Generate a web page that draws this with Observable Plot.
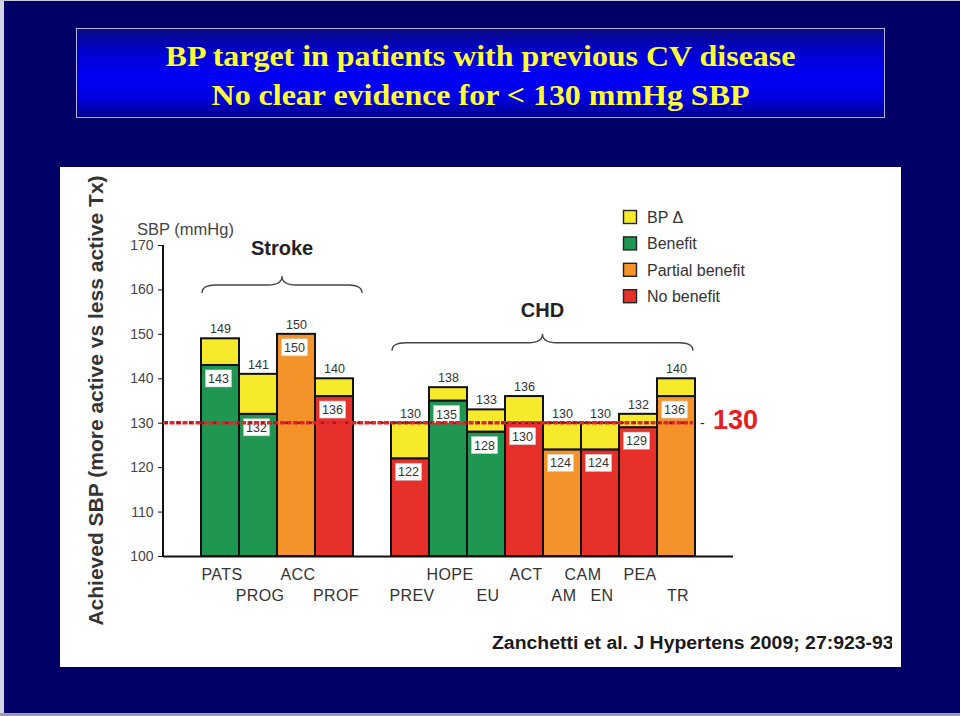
<!DOCTYPE html>
<html>
<head>
<meta charset="utf-8">
<script src="https://cdn.jsdelivr.net/npm/d3@7"></script>
<script src="https://cdn.jsdelivr.net/npm/@observablehq/plot@0.6"></script>
<style>
  html, body { margin: 0; padding: 0; }
  body { width: 960px; height: 716px; background: #000066; position: relative; overflow: hidden;
         font-family: "Liberation Sans", Arial, sans-serif; }
  #edgeL { position: absolute; left: 0; top: 0; width: 4px; height: 716px; background: #d4d4e4; }
  #edgeT { position: absolute; left: 0; top: 0; width: 960px; height: 1px; background: #c8c8dc; }
  #edgeB { position: absolute; left: 0; top: 713px; width: 960px; height: 3px; background: #9c9cb8; }
  #title { position: absolute; left: 76px; top: 28px; width: 807px; height: 88px;
           border: 1px solid #b4b4e0;
           background: linear-gradient(to bottom, #0a0a86 0%, #0000d8 30%, #0000f6 55%, #0000e0 78%, #000090 100%);
           color: #ffff33; font-family: "Liberation Serif", "Times New Roman", serif; font-weight: bold;
           font-size: 30px; line-height: 39px; text-align: center; }
  #title div { white-space: nowrap; transform: scaleX(1.065); transform-origin: 403px center; }
  #panel { position: absolute; left: 60px; top: 167px; width: 841px; height: 500px; background: #fff; overflow: hidden; }
  #panel svg { position: absolute; left: 0; top: 0; z-index: 1; }
  #cite { position: absolute; left: 432px; top: 467px; width: 400px; height: 24px; overflow: hidden; z-index: 2; }
  #cite span { display: inline-block; white-space: nowrap; font-weight: bold; font-size: 17.5px; line-height: 18px;
               color: #1a1a1a; transform: scaleX(1.11); transform-origin: left center; }
</style>
</head>
<body>
<div id="edgeL"></div><div id="edgeT"></div><div id="edgeB"></div>
<div id="title">
  <div style="margin-top:7px">BP target in patients with previous CV disease</div>
  <div>No clear evidence for &lt; 130 mmHg SBP</div>
</div>
<div id="panel"><div id="cite"><span>Zanchetti et al. J Hypertens 2009; 27:923-934</span></div></div>
<script>
// ---------------- data ----------------
const groups = ["Stroke", "CHD"];
const groupBraceSBP = [161, 148];            // SBP level at which each group brace is drawn
const trials = ["PATS", "PROG", "ACC", "PROF", "PREV", "HOPE", "EU", "ACT", "CAMAM", "CAMEN", "PEA", "TR"];
const trialGroup = ["Stroke", "Stroke", "Stroke", "Stroke", "CHD", "CHD", "CHD", "CHD", "CHD", "CHD", "CHD", "CHD"];
const lessActiveSBP = [149, 141, 150, 140, 130, 138, 133, 136, 130, 130, 132, 140];
const achievedSBP  = [143, 132, 150, 136, 122, 135, 128, 130, 124, 124, 129, 136];
const outcome = ["Benefit", "Benefit", "Partial benefit", "No benefit", "No benefit", "Benefit", "Benefit",
                 "No benefit", "Partial benefit", "No benefit", "No benefit", "Partial benefit"];
const xLabelText = ["PATS", "PROG", "ACC", "PROF", "PREV", "HOPE", "EU", "ACT", "CAM", "AM", "EN", "PEA", "TR"];
const xLabelRow  = [1, 2, 1, 2, 2, 1, 2, 1, 1, 2, 2, 1, 2];
const xLabelOver = [["PATS"], ["PROG"], ["ACC"], ["PROF"], ["PREV"], ["HOPE"], ["EU"], ["ACT"],
                    ["CAMAM", "CAMEN"], ["CAMAM"], ["CAMEN"], ["PEA"], ["TR"]];
const legendLabels = ["BP \u0394", "Benefit", "Partial benefit", "No benefit"];
const legendColors = ["#f6ea2a", "#1f9652", "#f5932b", "#e8302b"];
const yTicks = [100, 110, 120, 130, 140, 150, 160, 170];
const targetSBP = 130;

// ---------------- derived table ----------------
const rows = trials.map((t, i) => ({
  trial: t, group: trialGroup[i], upper: lessActiveSBP[i], achieved: achievedSBP[i], outcome: outcome[i]
}));
const slots = ["gap0"];
groups.forEach((g, gi) => {
  trials.forEach((t, i) => { if (trialGroup[i] === g) slots.push(t); });
  slots.push("gap" + (gi + 1));
});
const deltas = rows.filter(d => d.upper > d.achieved);

const ink = "#333";

function annotations(index, scales, values, dims) {
  const x = scales.x, y = scales.y, bw = x.bandwidth();
  const g = d3.create("svg:g").attr("font-family", "Liberation Sans, Arial, sans-serif").attr("text-anchor", "start");
  const left = dims.marginLeft;

  // lower (achieved) value labels in white boxes
  rows.forEach(d => {
    const cx = x(d.trial) + bw / 2 - 1.5, top = y(d.achieved) + 5;
    g.append("rect").attr("x", cx - 13).attr("y", top).attr("width", 26).attr("height", 17)
      .attr("fill", "#fff").attr("stroke", "#ccc").attr("stroke-width", 0.6);
    g.append("text").attr("x", cx).attr("y", top + 13).attr("text-anchor", "middle")
      .attr("font-size", 12.5).attr("fill", ink).text(d.achieved);
  });

  // y axis line
  g.append("line").attr("x1", left).attr("x2", left).attr("y1", y(170)).attr("y2", y(100))
    .attr("stroke", "#111").attr("stroke-width", 2);

  // target line
  const lineEnd = x(trials[trials.length - 1]) + bw - 2;
  g.append("line").attr("x1", left).attr("x2", lineEnd).attr("y1", y(targetSBP)).attr("y2", y(targetSBP))
    .attr("stroke", "#e0262b").attr("stroke-width", 3.5).attr("stroke-dasharray", "5,1.5");
  g.append("line").attr("x1", left + 2).attr("x2", lineEnd).attr("y1", y(targetSBP)).attr("y2", y(targetSBP))
    .attr("stroke", "#9a1418").attr("stroke-width", 2).attr("stroke-dasharray", "3,9");
  g.append("text").attr("x", lineEnd + 7).attr("y", y(targetSBP) + 5).attr("font-size", 14)
    .attr("fill", "#222").text("-");
  g.append("text").attr("x", lineEnd + 20).attr("y", y(targetSBP) + 6).attr("font-size", 27)
    .attr("font-weight", "bold").attr("fill", "#e3201f").text(targetSBP);

  // group braces + labels
  groups.forEach((grp, gi) => {
    const ts = trials.filter((t, i) => trialGroup[i] === grp);
    const x0 = x(ts[0]) + 1, x1 = x(ts[ts.length - 1]) + bw + (gi === 0 ? 9 : -2);
    const xc = (x0 + x1) / 2, ym = y(groupBraceSBP[gi]), ye = ym + 8, yp = ym - 9, r = 14;
    const p = `M${x0},${ye} Q${x0},${ym} ${x0 + r},${ym} L${xc - r},${ym} Q${xc},${ym} ${xc},${yp}` +
              ` Q${xc},${ym} ${xc + r},${ym} L${x1 - r},${ym} Q${x1},${ym} ${x1},${ye}`;
    g.append("path").attr("d", p).attr("fill", "none").attr("stroke", "#444").attr("stroke-width", 1.3);
    g.append("text").attr("x", xc).attr("y", ym - 28 + (gi === 0 ? -2 : 2)).attr("text-anchor", "middle")
      .attr("font-size", 20).attr("font-weight", "bold").attr("fill", "#222").text(grp);
  });

  // x labels (two staggered rows)
  const base = y(100);
  xLabelText.forEach((t, i) => {
    const cs = xLabelOver[i].map(s => x(s) + bw / 2);
    g.append("text").attr("x", d3.mean(cs) + 2).attr("y", base + (xLabelRow[i] === 1 ? 24 : 45))
      .attr("text-anchor", "middle").attr("font-size", 16).attr("letter-spacing", 0.4).attr("fill", ink).text(t);
  });

  // axis titles
  g.append("text").attr("x", 77).attr("y", 68).attr("font-size", 16.5).attr("fill", "#444").text("SBP (mmHg)");
  g.append("text").attr("transform", `translate(43,${(y(170) + y(100)) / 2}) rotate(-90)`)
    .attr("text-anchor", "middle").attr("font-size", 21).attr("font-weight", "bold").attr("fill", "#333")
    .text("Achieved SBP (more active vs less active Tx)");

  // legend
  legendLabels.forEach((lab, i) => {
    const cy = 50 + i * 26.4;
    g.append("rect").attr("x", 563.5).attr("y", cy - 6.5).attr("width", 13).attr("height", 13)
      .attr("fill", legendColors[i]).attr("stroke", "#222").attr("stroke-width", 1.4);
    g.append("text").attr("x", 587).attr("y", cy + 6).attr("font-size", 16).attr("fill", ink).text(lab);
  });
  return g.node();
}

const chart = Plot.plot({
  width: 841,
  height: 500,
  marginLeft: 103,
  marginRight: 168,
  marginTop: 78,
  marginBottom: 111,
  style: { background: "white", fontFamily: "Liberation Sans, Arial, sans-serif", color: "#444" },
  x: { type: "band", domain: slots, padding: 0, axis: null },
  y: { domain: [100, 170], axis: null },
  color: { domain: legendLabels, range: legendColors },
  marks: [
    Plot.barY(rows, { x: "trial", y1: 100, y2: "achieved", fill: "outcome", stroke: "#111", strokeWidth: 2, inset: 0 }),
    Plot.barY(deltas, { x: "trial", y1: "achieved", y2: "upper", fill: () => legendLabels[0], stroke: "#111", strokeWidth: 2, inset: 0 }),
    Plot.ruleY([100], { stroke: "#111", strokeWidth: 2 }),
    Plot.axisY({ ticks: yTicks, tickSize: 5, tickPadding: 5, fontSize: 14, label: null, stroke: "#111", fill: "#444" }),
    Plot.text(rows, { x: "trial", y: "upper", text: d => String(d.upper), dy: -5.5, lineAnchor: "bottom", fontSize: 12.5, fill: ink }),
    annotations
  ]
});
document.getElementById("panel").appendChild(chart);
</script>
</body>
</html>
